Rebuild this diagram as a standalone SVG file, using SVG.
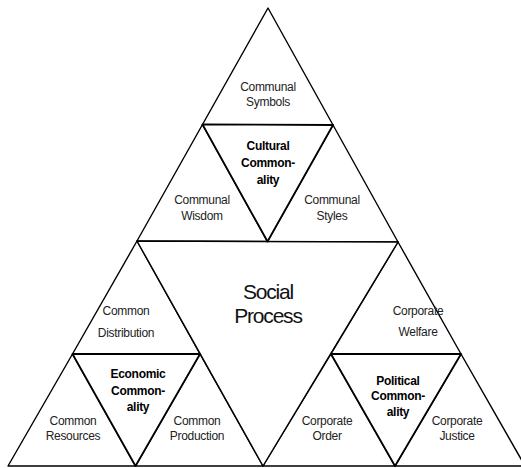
<svg xmlns="http://www.w3.org/2000/svg" width="521" height="468" viewBox="0 0 521 468">
<style>
.tri{fill:#fff;stroke:#000;stroke-width:1.4;stroke-linejoin:round}
.com{fill:#fff;stroke:#000;stroke-width:1.8;stroke-linejoin:round}
.t{font-family:"Liberation Sans",Arial,sans-serif;font-size:12px;fill:#222;text-anchor:middle;letter-spacing:-0.3px}
.b{font-family:"Liberation Sans",Arial,sans-serif;font-size:12px;font-weight:bold;fill:#000;text-anchor:middle;letter-spacing:-0.3px}
.big{font-family:"Liberation Sans",Arial,sans-serif;font-size:21px;fill:#111;text-anchor:middle;letter-spacing:-1.2px}
</style>
<rect width="521" height="468" fill="#fff"/>
<g id="communal-symbols">
<polygon class="tri" points="268,8 202.5,124.5 333,125"/>
<text class="t" x="268" y="91">Communal</text>
<text class="t" x="268" y="106">Symbols</text>
</g>
<g id="communal-wisdom">
<polygon class="tri" points="202.5,124.5 137,241 267.5,241.5"/>
<text class="t" x="202" y="204">Communal</text>
<text class="t" x="202" y="220">Wisdom</text>
</g>
<g id="communal-styles">
<polygon class="tri" points="333,125 267.5,241.5 398,242"/>
<text class="t" x="332" y="204">Communal</text>
<text class="t" x="332" y="220">Styles</text>
</g>
<g id="common-distribution">
<polygon class="tri" points="137,241 72.5,354 200,354"/>
<text class="t" x="126" y="315">Common</text>
<text class="t" x="126" y="337">Distribution</text>
</g>
<g id="common-resources">
<polygon class="tri" points="72.5,354 8,466 135.5,466"/>
<text class="t" x="73" y="425">Common</text>
<text class="t" x="73" y="440">Resources</text>
</g>
<g id="common-production">
<polygon class="tri" points="200,354 135.5,466 263,466"/>
<text class="t" x="197" y="425">Common</text>
<text class="t" x="197" y="440">Production</text>
</g>
<g id="corporate-welfare">
<polygon class="tri" points="398,242 331,354 461,354"/>
<text class="t" x="418" y="315">Corporate</text>
<text class="t" x="418" y="336">Welfare</text>
</g>
<g id="corporate-order">
<polygon class="tri" points="331,354 263,466 395,466"/>
<text class="t" x="327" y="425">Corporate</text>
<text class="t" x="327" y="440">Order</text>
</g>
<g id="corporate-justice">
<polygon class="tri" points="461,354 395,466 525,466"/>
<text class="t" x="457" y="425">Corporate</text>
<text class="t" x="457" y="440">Justice</text>
</g>
<g id="social-process">
<polygon class="tri" points="137,241 398,242 263,466"/>
<text class="big" x="268" y="299">Social</text>
<text class="big" x="268" y="323">Process</text>
</g>
<g id="cultural-commonality">
<polygon class="com" points="202.5,124.5 333,125 267.5,241.5"/>
<text class="b" x="268" y="150">Cultural</text>
<text class="b" x="268" y="167">Common-</text>
<text class="b" x="268" y="184">ality</text>
</g>
<g id="economic-commonality">
<polygon class="com" points="72.5,354 200,354 135.5,466"/>
<text class="b" x="138" y="378">Economic</text>
<text class="b" x="138" y="395">Common-</text>
<text class="b" x="138" y="411">ality</text>
</g>
<g id="political-commonality">
<polygon class="com" points="331,354 461,354 395,466"/>
<text class="b" x="398" y="385">Political</text>
<text class="b" x="398" y="400">Common-</text>
<text class="b" x="398" y="416">ality</text>
</g>
<g id="connectors"></g>
</svg>
